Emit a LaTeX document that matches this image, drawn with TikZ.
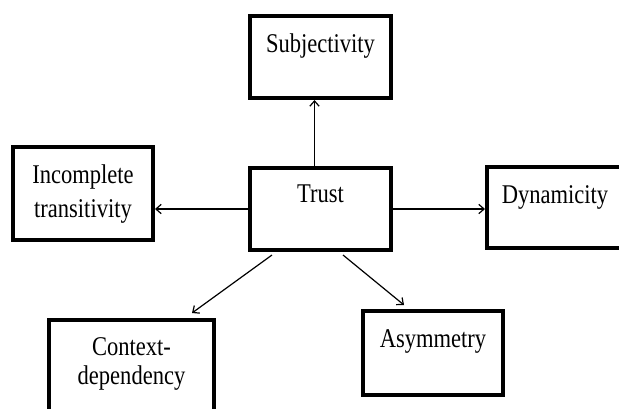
\documentclass[tikz,border=0pt]{standalone}
\usepackage{fontspec}
\setmainfont{Liberation Serif}
\usepackage{graphicx}
\usetikzlibrary{arrows.meta,calc}

\newcommand{\tall}[1]{\scalebox{1}[1.2]{#1}}

\begin{document}
\begin{tikzpicture}[
				x=0.75pt,y=-0.75pt,
				box/.style={
					draw=black,
					fill=white,
					line width=3pt,
					inner sep=0pt,
					anchor=base,
					font=\fontsize{16.9}{25.5}\selectfont
				},
				edge/.style={
					draw=black,
					line width=0.9pt,
					-{Straight Barb[length=4pt,width=7pt]}
				}
			]

				\path[use as bounding box, clip] (0,0) rectangle (619,408);
				\fill[white] (0,0) rectangle (619,408);

				\node[box, minimum width=105.75pt, text height=27pt, text depth=34.5pt]
					(S) at (320.5,52) {\tall{Subjectivity}};
				\node[box, minimum width=105.75pt, text height=25.5pt, text depth=36pt]
					(T) at (320.5,202) {\tall{Trust}};
				\node[box, minimum width=105pt, text height=27pt, text depth=42.75pt]
					(I) at (83,183) {\begin{tabular}[t]{@{}c@{}}\tall{Incomplete}\\\tall{transitivity}\end{tabular}};
				\node[box, minimum width=102pt, text height=27pt, text depth=33.75pt]
					(D) at (555,203) {\tall{Dynamicity}};
				\node[box, minimum width=123.75pt, text height=26.25pt, text depth=82.5pt,
					font=\fontsize{16.9}{21.75}\selectfont]
					(C) at (131.5,355) {\begin{tabular}[t]{@{}c@{}}\tall{Context-}\\\tall{dependency}\end{tabular}};
				\node[box, minimum width=105pt, text height=27pt, text depth=36pt]
					(A) at (433,347) {\tall{Asymmetry}};

				\draw[edge]
					([xshift=-4.5pt]T.north) to ([xshift=-4.5pt]S.south);

				\draw[edge]
					(T.west) to (T.west -| I.east);

				\draw[edge]
					(T.east) to (T.east -| D.west);

				\draw[edge]
					($(T.south west)+(24,3)$) to ($(C.north east)+(-24,-5)$);

				\draw[edge]
					($(T.south east)+(-50,3)$) to ($(A.north west)+(43,-4)$);

			\end{tikzpicture}
\end{document}
